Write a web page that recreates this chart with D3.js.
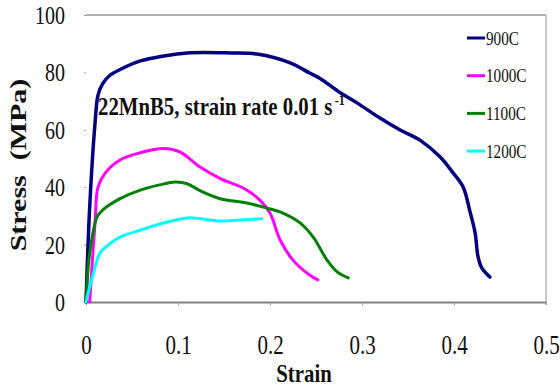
<!DOCTYPE html>
<html>
<head>
<meta charset="utf-8">
<script src="https://cdn.jsdelivr.net/npm/d3@7"></script>
<style>
  body { margin: 0; background: #fff; }
  svg { display: block; }
</style>
</head>
<body>
<svg id="chart" width="560" height="387"></svg>
<script>
// values
const strain900  = [0, 0.004, 0.01, 0.013, 0.018, 0.026, 0.037, 0.059, 0.084, 0.11, 0.157, 0.186, 0.222, 0.243, 0.254, 0.276, 0.295, 0.32, 0.341, 0.363, 0.385, 0.399, 0.41, 0.417, 0.423, 0.426, 0.43, 0.435, 0.439];
const stress900  = [0, 33, 63, 72, 76, 79, 81, 84, 85.7, 86.8, 86.8, 86.4, 83.3, 79.8, 78, 73, 69.3, 64, 60, 56.4, 50.5, 45, 40, 32, 24, 16, 12, 10, 8.7];
const strain1000 = [0.004, 0.01, 0.013, 0.021, 0.037, 0.059, 0.084, 0.102, 0.124, 0.146, 0.171, 0.189, 0.2, 0.211, 0.225, 0.243, 0.252];
const stress1000 = [0, 28.6, 40, 45, 49.5, 52, 53.5, 52.3, 47, 43, 39.7, 35.5, 31, 21.6, 14.6, 9.4, 7.7];
const strain1100 = [0, 0.004, 0.012, 0.018, 0.037, 0.059, 0.08, 0.097, 0.11, 0.124, 0.146, 0.175, 0.197, 0.214, 0.233, 0.247, 0.262, 0.273, 0.285];
const stress1100 = [0, 17, 29.6, 32, 36, 39, 40.8, 41.8, 41.2, 38.8, 36, 34.5, 32.7, 31, 27.5, 22.6, 14.6, 10.5, 8.4];
const strain1200 = [0, 0.008, 0.015, 0.021, 0.037, 0.059, 0.084, 0.11, 0.124, 0.146, 0.167, 0.191];
const stress1200 = [0, 10, 17, 19, 22.6, 25, 27.5, 29.3, 29, 28.2, 28.6, 29];

const seriesNames = ['900C', '1000C', '1100C', '1200C'];
const seriesColors = ['#000080', '#ff00ff', '#008000', '#00ffff'];
const xTicks = [0, 0.1, 0.2, 0.3, 0.4, 0.5];
const yTicks = [0, 20, 40, 60, 80, 100];

const serif = '"Liberation Serif", "Times New Roman", serif';
const sx = 0.8; // the original text looks squeezed sideways

const svg = d3.select('#chart');
const plotL = 86, plotR = 546, plotT = 15, plotB = 302;

const x = d3.scaleLinear().domain([0, 0.5]).range([plotL, plotR]);
const y = d3.scaleLinear().domain([0, 100]).range([plotB, plotT]);

// frame: light top and right edges
svg.append('line').attr('x1', plotL).attr('x2', plotR).attr('y1', plotT).attr('y2', plotT)
  .attr('stroke', '#b0b0b0').attr('stroke-width', 2);
svg.append('line').attr('x1', plotR).attr('x2', plotR).attr('y1', plotT).attr('y2', plotB + 3)
  .attr('stroke', '#b8b8b8').attr('stroke-width', 1.5);

// x axis
const xAxis = svg.append('g')
  .attr('transform', 'translate(0,' + plotB + ')')
  .call(d3.axisBottom(x).tickValues(xTicks).tickSize(3).tickSizeOuter(0).tickFormat(d => String(d)));
xAxis.select('.domain').attr('stroke', '#808080').attr('stroke-width', 2);
xAxis.selectAll('.tick line').attr('stroke', '#999');
xAxis.selectAll('.tick text')
  .attr('y', 52).attr('dy', 0)
  .attr('transform', 'scale(0.75,1)')
  .attr('font-family', serif).attr('font-size', 28).attr('fill', '#111');

// y axis (no line, only small tick marks)
const yAxis = svg.append('g')
  .attr('transform', 'translate(' + plotL + ',0)')
  .call(d3.axisLeft(y).tickValues(yTicks).tickSize(2).tickSizeOuter(0));
yAxis.select('.domain').remove();
yAxis.selectAll('.tick line').attr('stroke', '#999');
yAxis.selectAll('.tick text')
  .attr('x', -21 / sx).attr('dy', 0).attr('y', 8.5)
  .attr('transform', 'scale(' + sx + ',1)')
  .attr('font-family', serif).attr('font-size', 25).attr('fill', '#111');

// curves
const series = [
  [strain900, stress900],
  [strain1000, stress1000],
  [strain1100, stress1100],
  [strain1200, stress1200]
];
const line = d3.line()
  .x(d => x(d[0]))
  .y(d => y(d[1]))
  .curve(d3.curveCatmullRom.alpha(0.5));

series.forEach(function (s, i) {
  const pts = s[0].map((v, j) => [v, s[1][j]]);
  svg.append('path')
    .datum(pts)
    .attr('d', line)
    .attr('fill', 'none')
    .attr('stroke', seriesColors[i])
    .attr('stroke-width', i === 0 ? 3.5 : 3)
    .attr('stroke-linejoin', 'round')
    .attr('stroke-linecap', 'round');
});

// text helper: squeezed horizontally like the original
function label(px, py, str, size, weight, anchor, rotate) {
  const g = svg.append('g')
    .attr('transform', 'translate(' + px + ',' + py + ') scale(' + sx + ',1)' + (rotate ? ' rotate(' + rotate + ')' : ''));
  return g.append('text')
    .attr('font-family', serif)
    .attr('font-size', size)
    .attr('font-weight', weight)
    .attr('text-anchor', anchor)
    .attr('fill', '#111')
    .text(str);
}

// legend
const legend = svg.append('g');
seriesNames.forEach(function (name, i) {
  const ly = 38 + i * 37.7;
  legend.append('line')
    .attr('x1', 467).attr('x2', 485).attr('y1', ly).attr('y2', ly)
    .attr('stroke', seriesColors[i]).attr('stroke-width', 3);
  label(486, ly + 6.5, name, 19, 'normal', 'start');
});

// annotation
const note = label(98, 115, '22MnB5, strain rate 0.01 s', 26, 'bold', 'start');
note.append('tspan').attr('dx', 3).attr('dy', -10).attr('font-size', 15).text('-1');

// axis titles
label(304, 382, 'Strain', 26, 'bold', 'middle');
label(26, 165, 'Stress  (MPa)', 30, 'bold', 'middle', -90).style('white-space', 'pre');
</script>
</body>
</html>
